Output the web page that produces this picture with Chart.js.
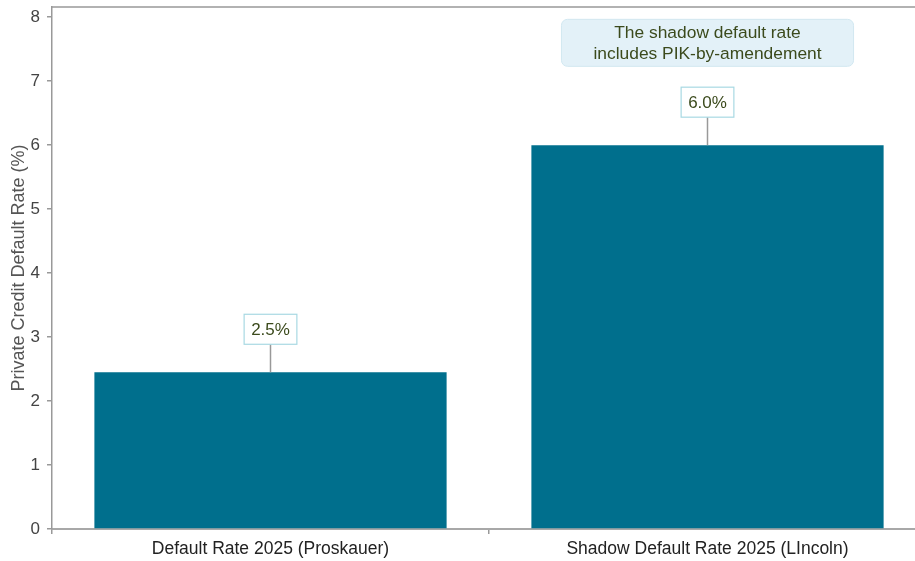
<!DOCTYPE html>
<html>
<head>
<meta charset="utf-8">
<script src="https://cdn.jsdelivr.net/npm/chart.js@4/dist/chart.umd.min.js"></script>
<style>
  html, body { margin: 0; padding: 0; background: #fff; overflow: hidden; }
  #wrap { width: 915px; height: 561px; overflow: hidden; }
</style>
</head>
<body>
<div id="wrap"><canvas id="chart" width="926" height="561"></canvas></div>
<script>
// Private credit default rates
const categories = ['Default Rate 2025 (Proskauer)', 'Shadow Default Rate 2025 (LIncoln)'];
const defaultRates = [2.45, 6.0];
const valueLabels = ['2.5%', '6.0%'];
const yTicks = [0, 1, 2, 3, 4, 5, 6, 7, 8];
const noteLines = ['The shadow default rate', 'includes PIK-by-amendement'];
const noteIndex = 1;
const noteValue = 7.6;

const barColor = '#006F8D';
const labelColor = '#3B4A1C';
const axisGray = '#999999';
const fontFamily = '"Liberation Sans", Arial, sans-serif';

// value boxes above bars, connector lines and the note box
const annotationPlugin = {
    id: 'annotations',
    afterDatasetsDraw(chart) {
        const ctx = chart.ctx;
        const x = chart.scales.x;
        const y = chart.scales.y;
        const area = chart.chartArea;

        // top frame line
        ctx.save();
        ctx.strokeStyle = axisGray;
        ctx.lineWidth = 1.5;
        ctx.beginPath();
        ctx.moveTo(area.left, area.top);
        ctx.lineTo(area.right, area.top);
        ctx.stroke();

        ctx.font = '17px ' + fontFamily;
        ctx.textAlign = 'center';
        ctx.textBaseline = 'middle';
        defaultRates.forEach((v, i) => {
            const cx = x.getPixelForValue(i);
            const top = y.getPixelForValue(v);
            const boxH = 30;
            const boxBottom = top - 28;
            const w = ctx.measureText(valueLabels[i]).width + 14;
            // connector
            ctx.strokeStyle = '#999999';
            ctx.lineWidth = 1.5;
            ctx.beginPath();
            ctx.moveTo(cx, boxBottom);
            ctx.lineTo(cx, top);
            ctx.stroke();
            // box
            ctx.fillStyle = '#ffffff';
            ctx.fillRect(cx - w / 2, boxBottom - boxH, w, boxH);
            ctx.strokeStyle = '#A8D9E3';
            ctx.lineWidth = 1.2;
            ctx.strokeRect(cx - w / 2, boxBottom - boxH, w, boxH);
            ctx.fillStyle = labelColor;
            ctx.fillText(valueLabels[i], cx, boxBottom - boxH / 2 + 1);
        });

        // note box
        ctx.font = '17.4px ' + fontFamily;
        const nx = x.getPixelForValue(noteIndex);
        const ny = y.getPixelForValue(noteValue);
        const nw = Math.max(...noteLines.map(t => ctx.measureText(t).width)) + 64;
        const nh = 47;
        ctx.fillStyle = '#E3F1F8';
        ctx.strokeStyle = '#D2E8F1';
        ctx.lineWidth = 1;
        ctx.beginPath();
        ctx.roundRect(nx - nw / 2, ny - nh / 2, nw, nh, 6);
        ctx.fill();
        ctx.stroke();
        ctx.fillStyle = labelColor;
        ctx.fillText(noteLines[0], nx, ny - 10);
        ctx.fillText(noteLines[1], nx, ny + 11);
        ctx.restore();
    }
};

new Chart(document.getElementById('chart'), {
    type: 'bar',
    data: {
        labels: categories,
        datasets: [{
            data: defaultRates,
            backgroundColor: barColor,
            borderWidth: 0,
            categoryPercentage: 1,
            barPercentage: 0.806
        }]
    },
    options: {
        responsive: false,
        animation: false,
        devicePixelRatio: 1,
        layout: { padding: { top: 7, right: 0, left: 0, bottom: 0 } },
        plugins: {
            legend: { display: false },
            tooltip: { enabled: false }
        },
        scales: {
            x: {
                afterFit(scale) {
                    scale.height = 32;
                    scale.paddingLeft = 0;
                    scale.paddingRight = 0;
                },
                grid: {
                    offset: true,
                    drawOnChartArea: false,
                    drawTicks: true,
                    tickLength: 5,
                    color: axisGray,
                    lineWidth: 1.5
                },
                border: { color: '#A8A8A8', width: 2 },
                ticks: {
                    color: '#222222',
                    padding: 5,
                    font: { family: fontFamily, size: 17.5 }
                }
            },
            y: {
                min: 0,
                max: 8.16,
                afterFit(scale) {
                    scale.width = 52;
                    scale.paddingTop = 0;
                    scale.paddingBottom = 0;
                },
                afterBuildTicks(scale) {
                    scale.ticks = yTicks.map(v => ({ value: v }));
                },
                grid: {
                    drawOnChartArea: false,
                    drawTicks: true,
                    tickLength: 5,
                    color: axisGray,
                    lineWidth: 1.5
                },
                border: { color: axisGray, width: 1.5 },
                ticks: {
                    color: '#444444',
                    padding: 7,
                    font: { family: fontFamily, size: 17 }
                },
                title: {
                    display: true,
                    text: 'Private Credit Default Rate (%)',
                    color: '#555555',
                    padding: { top: 8, bottom: 0 },
                    font: { family: fontFamily, size: 18 }
                }
            }
        }
    },
    plugins: [annotationPlugin]
});
</script>
</body>
</html>
